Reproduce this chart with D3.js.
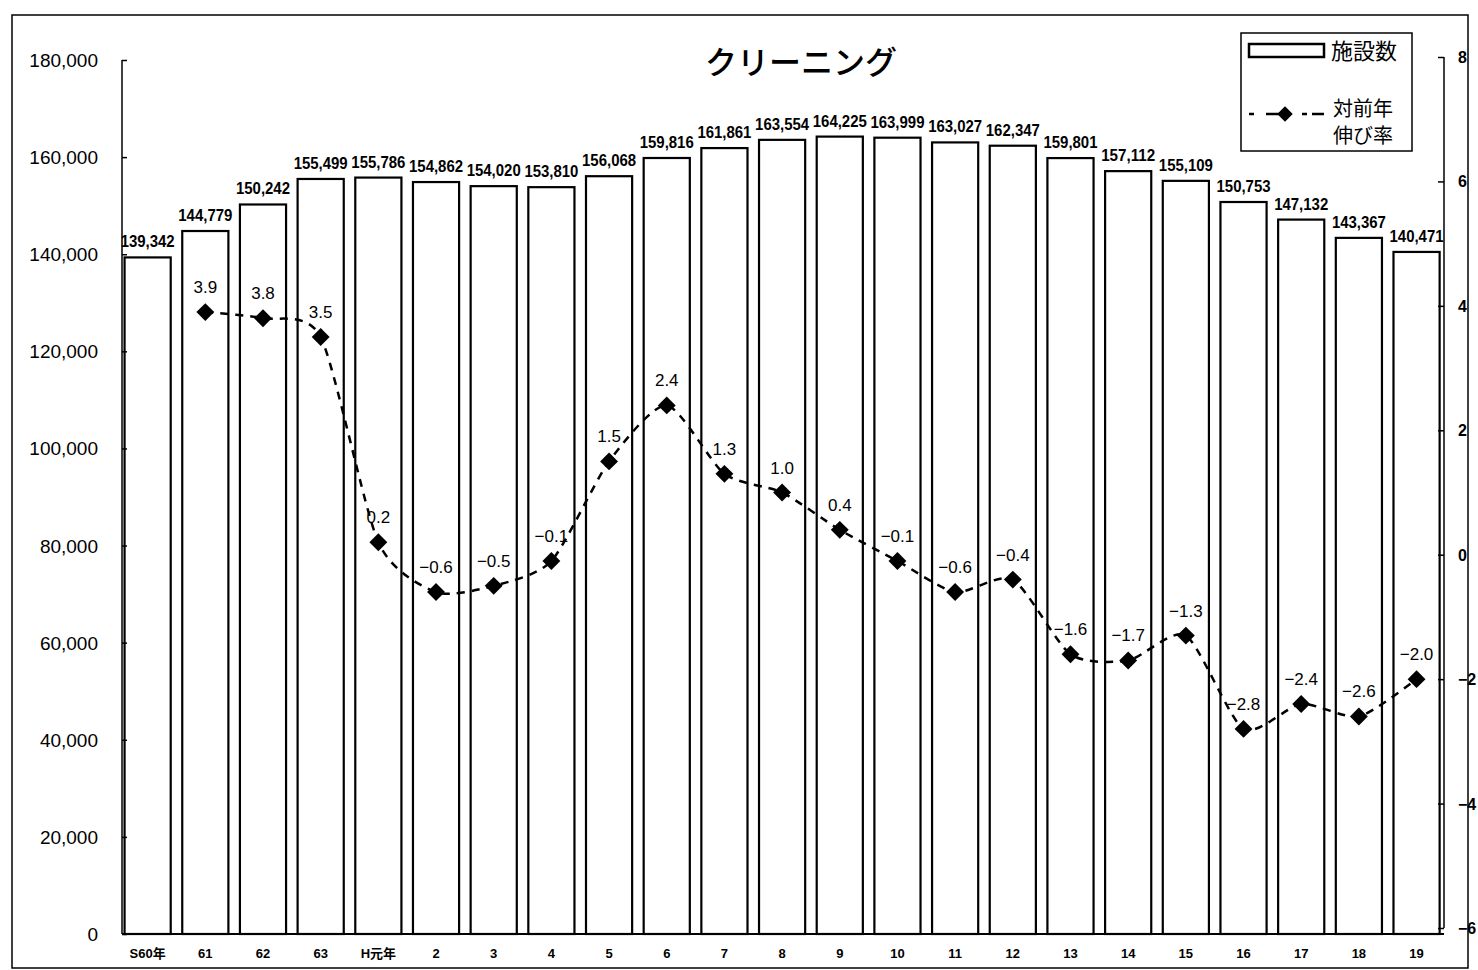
<!doctype html>
<html>
<head>
<meta charset="utf-8">
<script src="https://d3js.org/d3.v7.min.js"></script>
<style>
  body{margin:0;background:#fff;}
  text{fill:#000;}
  .num{font-family:"Liberation Sans",Arial,sans-serif;}
  .jp{font-family:"Noto Sans CJK JP","Noto Sans",sans-serif;}
</style>
</head>
<body>
<svg id="chart" width="1478" height="970"></svg>
<script>
// data
var years = ['S60年','61','62','63','H元年','2','3','4','5','6','7','8','9','10','11','12','13','14','15','16','17','18','19'];
var facilities = [139342,144779,150242,155499,155786,154862,154020,153810,156068,159816,161861,163554,164225,163999,163027,162347,159801,157112,155109,150753,147132,143367,140471];
var growth = [null,3.9,3.8,3.5,0.2,-0.6,-0.5,-0.1,1.5,2.4,1.3,1.0,0.4,-0.1,-0.6,-0.4,-1.6,-1.7,-1.3,-2.8,-2.4,-2.6,-2.0];
var leftTicks = [0,20000,40000,60000,80000,100000,120000,140000,160000,180000];
var rightTicks = [-6,-4,-2,0,2,4,6,8];
var title = 'クリーニング';
var legendBar = '施設数';
var legendLine = ['対前年','伸び率'];

var svg = d3.select('#chart');

// outer frame
svg.append('rect').attr('x',12).attr('y',15).attr('width',1456).attr('height',953)
  .attr('fill','none').attr('stroke','#000').attr('stroke-width',1.5);

var x = d3.scaleBand().domain(years).range([118.8,1445.4]).paddingInner(0.2).paddingOuter(0.1);
var yL = d3.scaleLinear().domain([0,180000]).range([934,60]);
var yR = d3.scaleLinear().domain([-6,8]).range([928,57]);

// bars
svg.append('g').selectAll('rect').data(facilities).enter().append('rect')
  .attr('x',(d,i)=>x(years[i]))
  .attr('y',d=>yL(d))
  .attr('width',x.bandwidth())
  .attr('height',d=>yL(0)-yL(d))
  .attr('fill','#fff').attr('stroke','#000').attr('stroke-width',2.2);

// bar labels
svg.append('g').selectAll('text').data(facilities).enter().append('text')
  .attr('class','num')
  .attr('x',(d,i)=>x(years[i])+x.bandwidth()/2)
  .attr('y',d=>yL(d)-10)
  .attr('text-anchor','middle')
  .attr('font-size',16).attr('font-weight','bold')
  .attr('textLength',54).attr('lengthAdjust','spacingAndGlyphs')
  .text(d=>d3.format(',')(d));

// left axis
var leftAxis = d3.axisRight(yL).tickValues(leftTicks).tickSize(5).tickFormat('');
var gl = svg.append('g').attr('transform','translate(122,0)').call(leftAxis);
gl.select('.domain').attr('d','M0,60V934').attr('stroke-width',1.5);
gl.selectAll('.tick line').attr('stroke-width',1.5);
svg.append('g').selectAll('text').data(leftTicks).enter().append('text')
  .attr('class','num')
  .attr('x',98).attr('y',d=>yL(d)+7)
  .attr('text-anchor','end').attr('font-size',19)
  .text(d=>d3.format(',')(d));

// right axis
var rightAxis = d3.axisLeft(yR).tickValues(rightTicks).tickSize(6).tickFormat('');
var gr = svg.append('g').attr('transform','translate(1444,0)').call(rightAxis);
gr.select('.domain').attr('d','M0,57V928').attr('stroke-width',1.5);
gr.selectAll('.tick line').attr('stroke-width',1.5);
svg.append('g').selectAll('text').data(rightTicks).enter().append('text')
  .attr('class','num')
  .attr('x',1458).attr('y',d=>yR(d)+6)
  .attr('font-size',16).attr('font-weight','bold')
  .text(d=>d<0 ? '\u2212'+Math.abs(d) : d);

// baseline + category labels
svg.append('line').attr('x1',122).attr('x2',1444).attr('y1',934).attr('y2',934)
  .attr('stroke','#000').attr('stroke-width',2);
svg.append('g').selectAll('text').data(years).enter().append('text')
  .attr('x',d=>x(d)+x.bandwidth()/2).attr('y',958)
  .attr('text-anchor','middle').attr('font-size',13).attr('font-weight','bold')
  .attr('font-family','"Liberation Sans","Noto Sans CJK JP",sans-serif')
  .text(d=>d);

// growth line
var pts = growth.map((g,i)=>({k:years[i],v:g})).filter(d=>d.v!==null);
var line = d3.line().x(d=>x(d.k)+x.bandwidth()/2).y(d=>yR(d.v)).curve(d3.curveCardinal.tension(0.3));
svg.append('path').datum(pts).attr('d',line)
  .attr('fill','none').attr('stroke','#000').attr('stroke-width',2.5)
  .attr('stroke-dasharray','8,7');

var diamond = {draw:function(ctx,size){var r=Math.sqrt(size/2);
  ctx.moveTo(0,-r);ctx.lineTo(r,0);ctx.lineTo(0,r);ctx.lineTo(-r,0);ctx.closePath();}};
svg.append('g').selectAll('path').data(pts).enter().append('path')
  .attr('transform',d=>'translate('+(x(d.k)+x.bandwidth()/2)+','+yR(d.v)+')')
  .attr('d',d3.symbol().type(diamond).size(160))
  .attr('fill','#000');

svg.append('g').selectAll('text').data(pts).enter().append('text')
  .attr('class','num')
  .attr('x',d=>x(d.k)+x.bandwidth()/2)
  .attr('y',d=>yR(d.v)-19)
  .attr('text-anchor','middle').attr('font-size',17)
  .text(d=>d.v<0 ? '\u2212'+Math.abs(d.v).toFixed(1) : d.v.toFixed(1));

// title
svg.append('text').attr('class','jp').attr('x',801).attr('y',74)
  .attr('text-anchor','middle').attr('font-size',32).attr('font-weight','500')
  .text(title);

// legend
var lg = svg.append('g');
lg.append('rect').attr('x',1241).attr('y',33).attr('width',171).attr('height',118)
  .attr('fill','#fff').attr('stroke','#000').attr('stroke-width',1.5);
lg.append('rect').attr('x',1249).attr('y',44).attr('width',75).attr('height',13)
  .attr('fill','#fff').attr('stroke','#000').attr('stroke-width',2.5);
lg.append('text').attr('class','jp').attr('x',1331).attr('y',59).attr('font-size',22).text(legendBar);
lg.append('line').attr('x1',1249).attr('x2',1326).attr('y1',114).attr('y2',114)
  .attr('stroke','#000').attr('stroke-width',2.5).attr('stroke-dasharray','5,12,24,12,5');
lg.append('path').attr('transform','translate(1285,114)')
  .attr('d',d3.symbol().type(diamond).size(120)).attr('fill','#000');
lg.append('text').attr('class','jp').attr('x',1333).attr('y',116).attr('font-size',20).text(legendLine[0]);
lg.append('text').attr('class','jp').attr('x',1333).attr('y',143).attr('font-size',20).text(legendLine[1]);
</script>
</body>
</html>
